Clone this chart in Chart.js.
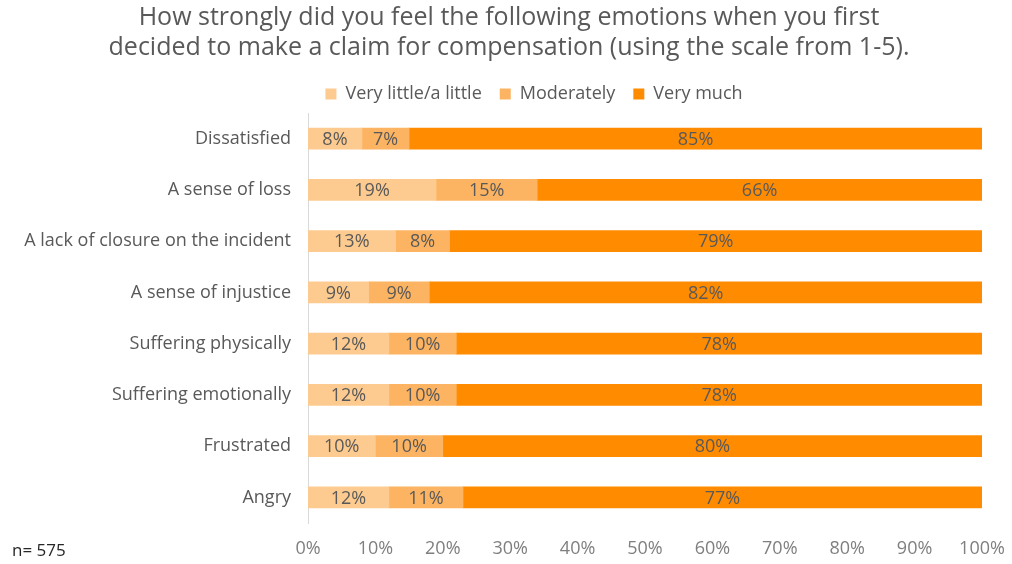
<!DOCTYPE html>
<html>
<head>
<meta charset="utf-8">
<script src="https://cdn.jsdelivr.net/npm/chart.js@4/dist/chart.umd.min.js"></script>
<style>
  html, body { margin: 0; padding: 0; background: #ffffff; }
  #wrap { width: 1012px; height: 564px; position: relative; }
</style>
</head>
<body>
<div id="wrap"><canvas id="c" width="1012" height="564"></canvas></div>
<script>
const categories = [
  "Dissatisfied",
  "A sense of loss",
  "A lack of closure on the incident",
  "A sense of injustice",
  "Suffering physically",
  "Suffering emotionally",
  "Frustrated",
  "Angry"
];
const seriesNames = ["Very little/a little", "Moderately", "Very much"];
const veryLittle = [8, 19, 13, 9, 12, 12, 10, 12];
const moderately = [7, 15, 8, 9, 10, 10, 10, 11];
const veryMuch = [85, 66, 79, 82, 78, 78, 80, 77];
const xTicks = [0, 10, 20, 30, 40, 50, 60, 70, 80, 90, 100];
const titleLines = [
  "How strongly did you feel the following emotions when you first",
  "decided to make a claim for compensation (using the scale from 1-5)."
];
const footnote = "n= 575";

const colors = ["#FDCB8F", "#FCB462", "#FF8C00"];
const FONT = "'Open Sans', sans-serif";

const barLabels = {
  id: 'barLabels',
  afterDatasetsDraw(chart) {
    const ctx = chart.ctx;
    ctx.save();
    ctx.font = "18px " + FONT;
    ctx.fillStyle = "#595959";
    ctx.textAlign = "center";
    ctx.textBaseline = "middle";
    chart.data.datasets.forEach((ds, i) => {
      const meta = chart.getDatasetMeta(i);
      meta.data.forEach((bar, j) => {
        const p = bar.getProps(['x', 'y', 'base'], true);
        const cx = (p.x + p.base) / 2;
        ctx.fillText(ds.data[j] + "%", cx, p.y + 1);
      });
    });
    ctx.restore();
  }
};

const shiftPlugin = {
  id: 'shiftPlugin',
  afterLayout(chart) {
    const lg = chart.legend;
    if (lg) { lg.left += 43; lg.right += 43; }
    const tb = chart.titleBlock;
    if (tb) { tb.left += 18; tb.right += 18; }
  }
};

const footPlugin = {
  id: 'footPlugin',
  afterDraw(chart) {
    const ctx = chart.ctx;
    ctx.save();
    ctx.font = "17px " + FONT;
    ctx.fillStyle = "#262626";
    ctx.textAlign = "left";
    ctx.textBaseline = "middle";
    ctx.fillText(footnote, 12, 551);
    ctx.restore();
  }
};

new Chart(document.getElementById('c'), {
  type: 'bar',
  data: {
    labels: categories,
    datasets: [
      { label: seriesNames[0], data: veryLittle, backgroundColor: colors[0] },
      { label: seriesNames[1], data: moderately, backgroundColor: colors[1] },
      { label: seriesNames[2], data: veryMuch, backgroundColor: colors[2] }
    ]
  },
  options: {
    responsive: false,
    animation: false,
    indexAxis: 'y',
    layout: { padding: { left: 0, right: 30, top: 0, bottom: 0 } },
    datasets: { bar: { barThickness: 21, borderWidth: 0 } },
    scales: {
      x: {
        stacked: true,
        min: 0,
        max: 100,
        afterBuildTicks(scale) { scale.ticks = xTicks.map(v => ({ value: v })); },
        afterFit(scale) { scale.height = 41; scale.paddingRight = 4; scale.paddingLeft = 4; },
        grid: { display: false, drawTicks: false },
        border: { display: false },
        ticks: {
          padding: 15,
          color: "#7F7F7F",
          font: { family: FONT, size: 18 },
          callback: v => v + "%"
        }
      },
      y: {
        stacked: true,
        afterFit(scale) { scale.width = 308; },
        grid: { display: false, drawTicks: false },
        border: { display: true, color: "#D9D9D9", width: 1 },
        ticks: {
          padding: 17,
          color: "#595959",
          font: { family: FONT, size: 18 }
        }
      }
    },
    plugins: {
      title: {
        display: true,
        text: titleLines,
        color: "#595959",
        font: { family: FONT, size: 25, weight: 'normal', lineHeight: 1.2 },
        padding: { top: 3, bottom: 4 }
      },
      legend: {
        display: true,
        position: 'top',
        labels: {
          boxWidth: 11,
          boxHeight: 11,
          padding: 18,
          color: "#595959",
          font: { family: FONT, size: 18 }
        }
      },
      tooltip: { enabled: false }
    }
  },
  plugins: [barLabels, shiftPlugin, footPlugin]
});
</script>
</body>
</html>
